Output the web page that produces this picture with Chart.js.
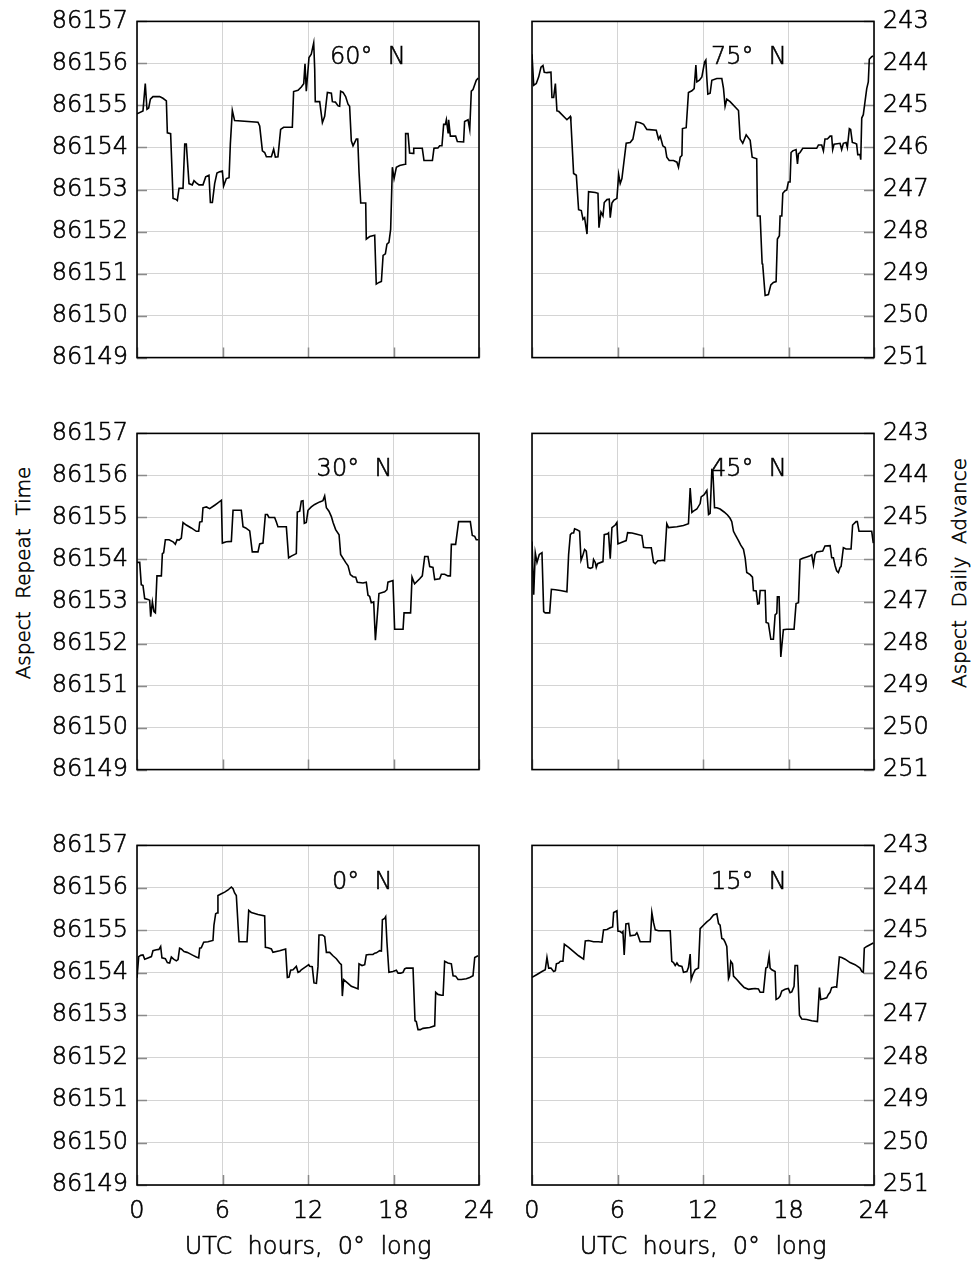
<!DOCTYPE html>
<html>
<head>
<meta charset="utf-8">
<script src="https://cdn.jsdelivr.net/npm/chart.js@4.4.0/dist/chart.umd.min.js"></script>
<style>
html,body{margin:0;padding:0;background:#fff;width:977px;height:1262px;overflow:hidden;position:relative;}
canvas{position:absolute;display:block;}
.vt{position:absolute;font-family:'DejaVu Sans','Liberation Sans',sans-serif;font-weight:200;font-size:20px;color:#000;-webkit-text-stroke:0.55px #000;white-space:pre;transform:translate(-50%,-50%) rotate(-90deg);line-height:1;}
</style>
</head>
<body>
<div class="vt" style="left:23px;top:573px;">Aspect  Repeat  Time</div>
<div class="vt" style="left:959px;top:573px;">Aspect  Daily  Advance</div>
<script>
// ---------- DATA (hours UTC, aspect repeat time in seconds) ----------
const hourTicks = ['0', '6', '12', '18', '24'];
const repeatTimeTicks = ['86149', '86150', '86151', '86152', '86153', '86154', '86155', '86156', '86157'];
const dailyAdvanceTicks = ['251', '250', '249', '248', '247', '246', '245', '244', '243'];
const panelTitles = ['60°  N', '75°  N', '30°  N', '45°  N', '0°  N', '15°  N'];
const xAxisTitle = 'UTC  hours,  0°  long';

const repeat60N = [[0,86154.80],[0.42,86154.87],[0.58,86155.52],[0.70,86154.91],[0.82,86154.94],[0.94,86155.15],[1.12,86155.21],[1.59,86155.21],[1.82,86155.17],[2.06,86155.11],[2.13,86154.35],[2.36,86154.33],[2.53,86152.79],[2.76,86152.76],[2.83,86152.74],[2.95,86153.03],[3.23,86153.03],[3.35,86154.08],[3.46,86154.08],[3.65,86153.14],[3.88,86153.11],[4.00,86153.21],[4.16,86153.16],[4.35,86153.11],[4.63,86153.11],[4.82,86153.30],[5.05,86153.34],[5.15,86152.69],[5.29,86152.69],[5.45,86153.14],[5.61,86153.39],[5.80,86153.42],[5.99,86153.44],[6.08,86153.08],[6.27,86153.26],[6.46,86153.28],[6.55,86154.08],[6.69,86154.88],[6.85,86154.64],[8.49,86154.60],[8.61,86154.51],[8.80,86153.92],[8.96,86153.88],[9.08,86153.78],[9.43,86153.78],[9.59,86153.96],[9.71,86153.77],[9.89,86153.78],[10.08,86154.43],[10.29,86154.48],[10.90,86154.48],[10.99,86155.33],[11.30,86155.36],[11.53,86155.44],[11.70,86155.52],[11.79,86155.99],[11.88,86155.34],[12.07,86156.14],[12.23,86156.22],[12.40,86156.49],[12.47,86155.87],[12.51,86155.09],[12.82,86155.09],[13.01,86154.59],[13.17,86154.74],[13.36,86155.31],[13.64,86155.29],[13.71,86155.09],[13.92,86155.08],[14.11,86154.99],[14.22,86154.98],[14.29,86155.34],[14.46,86155.31],[14.64,86155.21],[14.81,86155.03],[14.92,86154.98],[15.04,86154.16],[15.16,86154.04],[15.39,86154.20],[15.49,86154.20],[15.58,86153.42],[15.70,86152.68],[16.05,86152.68],[16.09,86151.82],[16.33,86151.88],[16.68,86151.91],[16.79,86150.75],[16.98,86150.79],[17.15,86150.81],[17.27,86151.43],[17.43,86151.47],[17.54,86151.70],[17.68,86151.74],[17.80,86152.05],[17.92,86153.53],[18.04,86153.26],[18.20,86153.53],[18.43,86153.57],[18.81,86153.60],[18.85,86154.33],[19.02,86154.33],[19.13,86153.87],[19.37,86153.86],[19.42,86153.98],[20.02,86153.98],[20.14,86153.69],[20.73,86153.69],[20.84,86153.98],[21.12,86153.99],[21.24,86154.04],[21.40,86154.04],[21.52,86154.55],[21.64,86154.55],[21.71,86154.66],[21.83,86154.35],[21.87,86154.66],[21.99,86154.27],[22.36,86154.27],[22.48,86154.14],[22.92,86154.13],[22.99,86154.62],[23.23,86154.66],[23.35,86154.43],[23.46,86155.34],[23.58,86155.38],[23.81,86155.60],[23.95,86155.65]];

const repeat75N = [[0,86156.22],[0.12,86155.48],[0.30,86155.52],[0.47,86155.68],[0.63,86155.91],[0.77,86155.95],[0.86,86155.79],[1.05,86155.78],[1.33,86155.79],[1.40,86155.19],[1.52,86155.19],[1.64,86155.52],[1.75,86154.87],[1.87,86154.86],[2.45,86154.66],[2.69,86154.74],[2.73,86154.62],[2.92,86153.38],[3.11,86153.34],[3.27,86152.52],[3.46,86152.50],[3.58,86152.29],[3.69,86152.33],[3.86,86151.94],[3.97,86152.95],[4.44,86152.93],[4.63,86152.91],[4.70,86152.09],[4.84,86152.46],[4.98,86152.37],[5.07,86152.69],[5.26,86152.76],[5.42,86152.77],[5.49,86152.33],[5.61,86152.68],[5.73,86152.74],[5.96,86152.79],[6.08,86153.36],[6.19,86153.14],[6.31,86153.26],[6.61,86154.10],[6.89,86154.12],[7.08,86154.20],[7.31,86154.61],[7.59,86154.59],[7.83,86154.55],[8.06,86154.43],[8.72,86154.41],[8.88,86154.20],[9.00,86154.27],[9.18,86154.04],[9.35,86154.00],[9.46,86153.77],[9.63,86153.69],[9.93,86153.69],[10.17,86153.65],[10.28,86153.53],[10.40,86153.77],[10.52,86153.81],[10.56,86154.45],[10.82,86154.47],[10.98,86155.31],[11.22,86155.35],[11.38,86155.40],[11.50,86155.96],[11.57,86155.56],[11.75,86155.60],[11.92,86155.68],[12.11,86156.03],[12.20,86156.08],[12.27,86155.64],[12.34,86155.27],[12.50,86155.29],[12.62,86155.60],[12.97,86155.64],[13.32,86155.64],[13.44,86155.40],[13.55,86154.98],[13.67,86155.15],[13.90,86155.09],[14.49,86154.88],[14.61,86154.20],[14.79,86154.10],[15.03,86154.30],[15.31,86154.17],[15.45,86153.77],[15.77,86153.73],[15.82,86152.37],[16.01,86152.37],[16.15,86151.24],[16.19,86151.21],[16.36,86150.48],[16.59,86150.50],[16.76,86150.73],[16.94,86150.79],[17.13,86150.81],[17.22,86151.82],[17.36,86151.90],[17.41,86152.37],[17.53,86152.37],[17.60,86152.91],[17.76,86152.97],[17.88,86152.99],[17.99,86153.18],[18.11,86153.18],[18.18,86153.88],[18.30,86153.92],[18.53,86153.95],[18.63,86153.61],[18.70,86153.85],[18.81,86153.88],[19.00,86153.98],[19.98,86153.98],[20.10,86154.06],[20.33,86154.06],[20.45,86153.92],[20.56,86154.20],[20.73,86154.20],[20.92,86154.27],[21.03,86154.27],[21.10,86153.95],[21.20,86154.08],[21.62,86154.10],[21.73,86153.95],[21.85,86154.10],[22.04,86154.12],[22.13,86154.00],[22.27,86154.45],[22.36,86154.43],[22.48,86154.12],[22.67,86154.10],[22.78,86154.08],[22.86,86153.83],[23.02,86153.83],[23.07,86153.71],[23.14,86154.70],[23.25,86154.78],[23.37,86155.09],[23.49,86155.40],[23.60,86155.56],[23.67,86156.10],[23.84,86156.16],[23.95,86156.18]];

const repeat30N = [[0,86153.93],[0.19,86153.93],[0.30,86153.40],[0.42,86153.38],[0.54,86153.07],[0.77,86153.05],[0.89,86153.03],[0.96,86152.64],[1.08,86152.99],[1.19,86152.76],[1.29,86152.73],[1.40,86153.61],[1.71,86153.61],[1.78,86154.14],[1.87,86154.16],[1.99,86154.47],[2.25,86154.47],[2.53,86154.42],[2.69,86154.36],[2.81,86154.47],[2.95,86154.46],[3.11,86154.51],[3.23,86154.88],[3.46,86154.82],[3.81,86154.75],[4.16,86154.67],[4.33,86154.67],[4.40,86154.89],[4.56,86154.90],[4.63,86155.23],[4.87,86155.25],[4.98,86155.23],[5.10,86155.21],[5.45,86155.29],[5.61,86155.33],[5.92,86155.41],[5.99,86154.39],[6.27,86154.42],[6.62,86154.43],[6.74,86155.17],[6.97,86155.17],[7.32,86155.17],[7.44,86154.78],[7.63,86154.75],[7.91,86154.68],[8.09,86154.18],[8.49,86154.18],[8.61,86154.37],[8.84,86154.39],[9.01,86155.07],[9.15,86155.07],[9.26,86155.00],[9.66,86155.00],[9.78,86154.89],[9.89,86154.78],[10.48,86154.78],[10.64,86154.04],[10.83,86154.08],[11.18,86154.14],[11.25,86155.13],[11.42,86155.15],[11.53,86155.39],[11.65,86155.40],[11.74,86154.86],[11.88,86154.88],[12.00,86155.17],[12.23,86155.25],[12.47,86155.31],[12.82,86155.37],[13.05,86155.40],[13.17,86155.51],[13.29,86155.23],[13.47,86155.15],[13.64,86155.02],[13.76,86154.88],[13.94,86154.71],[14.18,86154.59],[14.29,86154.12],[14.64,86153.93],[14.81,86153.85],[14.97,86153.64],[15.16,86153.59],[15.35,86153.58],[15.46,86153.46],[15.86,86153.44],[16.09,86153.46],[16.21,86153.15],[16.33,86153.12],[16.44,86152.97],[16.61,86152.99],[16.73,86152.08],[16.84,86152.56],[16.98,86153.19],[17.38,86153.23],[17.54,86153.28],[17.61,86153.46],[17.96,86153.50],[18.08,86152.34],[18.67,86152.34],[18.74,86152.73],[19.20,86152.73],[19.30,86153.58],[19.48,86153.42],[19.84,86153.54],[20.02,86153.61],[20.19,86154.07],[20.42,86154.07],[20.54,86153.83],[20.77,86153.81],[20.89,86153.52],[21.24,86153.54],[21.36,86153.65],[21.59,86153.65],[21.82,86153.61],[21.99,86153.61],[22.06,86154.36],[22.36,86154.36],[22.57,86154.90],[23.23,86154.90],[23.39,86154.90],[23.53,86154.57],[23.70,86154.55],[23.81,86154.47],[23.95,86154.47]];

const repeat45N = [[0,86154.43],[0.12,86153.16],[0.23,86154.16],[0.35,86153.93],[0.51,86154.12],[0.70,86154.16],[0.82,86152.76],[0.93,86152.73],[1.24,86152.73],[1.36,86153.29],[1.64,86153.28],[1.99,86153.26],[2.45,86153.23],[2.57,86154.12],[2.69,86154.59],[2.80,86154.63],[2.92,86154.63],[2.99,86154.73],[3.15,86154.71],[3.34,86154.67],[3.44,86153.98],[3.55,86154.08],[3.69,86154.24],[3.81,86154.20],[3.93,86153.81],[4.09,86153.79],[4.25,86153.81],[4.32,86154.00],[4.44,86153.93],[4.51,86153.81],[4.60,86153.90],[4.98,86153.95],[5.07,86154.59],[5.30,86154.61],[5.37,86154.63],[5.49,86154.02],[5.61,86154.76],[5.84,86154.82],[5.96,86154.88],[6.03,86154.37],[6.31,86154.41],[6.61,86154.45],[6.71,86154.64],[7.01,86154.63],[7.36,86154.60],[7.71,86154.57],[7.83,86154.29],[8.02,86154.28],[8.37,86154.28],[8.53,86153.93],[8.65,86153.90],[8.83,86153.97],[9.00,86153.97],[9.18,86153.98],[9.30,86153.97],[9.46,86154.85],[9.58,86154.76],[10.17,86154.78],[10.63,86154.81],[10.98,86154.85],[11.10,86155.70],[11.22,86155.12],[11.33,86155.15],[11.57,86155.20],[11.80,86155.33],[11.87,86155.49],[12.08,86155.54],[12.27,86155.64],[12.39,86155.07],[12.50,86155.10],[12.62,86156.13],[12.69,86156.11],[12.81,86155.23],[12.97,86155.23],[13.20,86155.20],[13.48,86155.13],[13.72,86155.06],[13.90,86154.98],[14.02,86154.90],[14.14,86154.67],[14.26,86154.59],[14.49,86154.45],[14.65,86154.34],[14.84,86154.24],[14.96,86154.03],[15.07,86153.69],[15.31,86153.64],[15.47,86153.58],[15.54,86153.26],[15.73,86153.25],[15.84,86152.94],[15.94,86152.95],[16.01,86153.26],[16.36,86153.26],[16.43,86152.50],[16.59,86152.48],[16.76,86152.10],[16.94,86152.10],[17.06,86152.68],[17.18,86152.72],[17.22,86153.11],[17.34,86153.11],[17.46,86151.68],[17.64,86152.33],[17.88,86152.34],[18.39,86152.34],[18.53,86152.95],[18.70,86152.97],[18.81,86154.00],[19.00,86154.03],[19.28,86154.06],[19.47,86154.08],[19.63,86154.11],[19.75,86153.87],[19.86,86154.12],[19.98,86154.18],[20.40,86154.20],[20.56,86154.32],[20.92,86154.33],[21.03,86154.04],[21.15,86154.04],[21.27,86153.85],[21.38,86153.73],[21.50,86153.69],[21.62,86153.81],[21.69,86153.83],[21.85,86154.28],[22.04,86154.25],[22.39,86154.25],[22.50,86154.82],[22.74,86154.90],[22.83,86154.90],[22.95,86154.67],[23.49,86154.67],[23.84,86154.67],[23.95,86154.39]];

const repeat0N = [[0,86153.88],[0.12,86154.38],[0.26,86154.41],[0.42,86154.42],[0.54,86154.32],[0.77,86154.35],[1.01,86154.38],[1.12,86154.52],[1.36,86154.54],[1.54,86154.55],[1.66,86154.62],[1.75,86154.35],[1.99,86154.33],[2.13,86154.24],[2.29,86154.23],[2.41,86154.37],[2.57,86154.32],[2.76,86154.28],[2.88,86154.31],[2.99,86154.58],[3.11,86154.56],[3.30,86154.50],[3.51,86154.48],[3.70,86154.45],[3.93,86154.41],[4.16,86154.37],[4.33,86154.35],[4.40,86154.58],[4.51,86154.59],[4.68,86154.72],[4.98,86154.73],[5.33,86154.76],[5.40,86155.12],[5.52,86155.39],[5.64,86155.41],[5.68,86155.82],[5.92,86155.86],[6.15,86155.90],[6.39,86155.95],[6.62,86156.02],[6.74,86155.98],[6.85,86155.88],[6.97,86155.82],[7.16,86154.73],[7.32,86154.73],[7.72,86154.73],[7.84,86155.47],[8.02,86155.42],[8.14,86155.41],[8.49,86155.37],[8.96,86155.34],[9.01,86154.60],[9.19,86154.59],[9.43,86154.56],[9.54,86154.48],[10.01,86154.52],[10.43,86154.56],[10.55,86153.89],[10.67,86153.90],[10.78,86154.06],[10.95,86154.07],[11.18,86154.15],[11.30,86154.01],[11.42,86154.03],[11.53,86154.07],[11.88,86154.15],[12.05,86154.19],[12.12,86154.15],[12.30,86154.14],[12.42,86153.76],[12.59,86153.75],[12.70,86154.15],[12.77,86154.89],[13.01,86154.89],[13.17,86154.85],[13.29,86154.48],[13.52,86154.48],[13.75,86154.40],[13.99,86154.33],[14.22,86154.23],[14.34,86154.19],[14.41,86153.45],[14.50,86153.84],[14.81,86153.75],[15.04,86153.68],[15.27,86153.65],[15.51,86153.62],[15.58,86154.21],[15.79,86154.17],[15.98,86154.19],[16.09,86154.42],[16.28,86154.43],[16.56,86154.43],[16.68,86154.46],[16.80,86154.47],[17.03,86154.52],[17.15,86154.51],[17.22,86155.25],[17.38,86155.28],[17.45,86155.32],[17.54,86154.72],[17.68,86154.01],[17.96,86154.03],[18.20,86154.06],[18.32,86153.99],[18.50,86153.99],[18.67,86154.01],[18.78,86154.09],[18.90,86154.11],[19.37,86154.11],[19.51,86152.87],[19.60,86152.85],[19.72,86152.66],[19.88,86152.66],[20.07,86152.69],[20.54,86152.71],[20.89,86152.75],[20.96,86153.54],[21.12,86153.49],[21.36,86153.47],[21.48,86153.47],[21.59,86154.27],[21.82,86154.23],[22.06,86154.21],[22.18,86153.93],[22.36,86153.92],[22.53,86153.84],[22.76,86153.84],[23.11,86153.86],[23.35,86153.89],[23.58,86153.93],[23.70,86154.36],[23.93,86154.40]];

const repeat15N = [[0,86153.89],[0.35,86153.96],[0.70,86154.03],[0.93,86154.07],[1.05,86154.36],[1.17,86154.11],[1.33,86154.11],[1.52,86154.03],[1.64,86154.05],[1.71,86154.21],[1.87,86154.23],[1.99,86154.27],[2.17,86154.27],[2.27,86154.67],[2.57,86154.60],[2.92,86154.50],[3.27,86154.40],[3.62,86154.32],[3.74,86154.75],[3.97,86154.76],[4.32,86154.73],[4.67,86154.73],[4.91,86154.72],[5.02,86155.01],[5.26,86155.02],[5.49,86155.06],[5.66,86155.08],[5.73,86155.42],[5.96,86155.46],[6.03,86154.98],[6.19,86154.97],[6.31,86154.94],[6.38,86154.97],[6.47,86154.42],[6.59,86155.15],[6.78,86155.16],[6.89,86154.87],[7.24,86154.89],[7.36,86154.94],[7.43,86154.89],[7.59,86154.73],[7.95,86154.73],[8.30,86154.73],[8.41,86155.42],[8.53,86155.18],[8.65,86155.01],[8.88,86154.99],[9.28,86154.99],[9.70,86154.99],[9.81,86154.27],[9.93,86154.24],[10.05,86154.17],[10.17,86154.23],[10.28,86154.17],[10.52,86154.15],[10.63,86154.01],[10.87,86154.03],[10.98,86154.13],[11.10,86154.44],[11.17,86153.84],[11.29,86153.96],[11.45,86154.07],[11.68,86154.11],[11.80,86155.04],[12.03,86155.12],[12.27,86155.20],[12.50,86155.26],[12.74,86155.36],[12.97,86155.39],[13.09,86155.16],[13.20,86155.12],[13.32,86154.81],[13.44,86154.79],[13.55,86154.72],[13.67,86154.62],[13.79,86153.86],[13.86,86153.92],[13.95,86154.27],[14.07,86154.21],[14.14,86153.92],[14.37,86153.84],[14.61,86153.75],[14.89,86153.65],[15.19,86153.61],[15.42,86153.62],[15.66,86153.63],[15.89,86153.62],[16.01,86153.54],[16.24,86153.54],[16.41,86154.11],[16.52,86154.13],[16.64,86154.40],[16.71,86154.11],[16.83,86154.07],[17.06,86154.03],[17.13,86153.37],[17.29,86153.40],[17.41,86153.45],[17.53,86153.57],[17.76,86153.61],[17.99,86153.63],[18.11,86153.53],[18.23,86153.55],[18.39,86153.68],[18.46,86154.17],[18.63,86154.17],[18.77,86153.00],[18.93,86152.91],[19.28,86152.90],[19.63,86152.87],[20.03,86152.85],[20.17,86153.65],[20.26,86153.37],[20.45,86153.39],[20.68,86153.41],[20.80,86153.49],[20.92,86153.54],[21.03,86153.65],[21.27,86153.67],[21.38,86153.66],[21.57,86154.37],[21.73,86154.36],[21.97,86154.32],[22.32,86154.24],[22.67,86154.19],[23.02,86154.11],[23.14,86154.03],[23.25,86154.01],[23.32,86154.58],[23.49,86154.62],[23.72,86154.66],[23.95,86154.70]];

// ---------- LAYOUT / STYLE ----------
const FONT_FAMILY = "'DejaVu Sans', 'Liberation Sans', sans-serif";
const FONT_WEIGHT = '200';
const FONT_SIZE = 24;
const TEXT_STROKE = 0.6;
const PLOT_LEFT = [137, 532];
const PLOT_W = 342;
const ROW_TOP = [18, 430, 842];
const PLOT_H = 343;

const PANELS = [
  { data: repeat60N, title: panelTitles[0], col: 0, row: 0, titleRight: 18.86 },
  { data: repeat75N, title: panelTitles[1], col: 1, row: 0, titleRight: 17.88 },
  { data: repeat30N, title: panelTitles[2], col: 0, row: 1, titleRight: 17.92 },
  { data: repeat45N, title: panelTitles[3], col: 1, row: 1, titleRight: 17.88 },
  { data: repeat0N,  title: panelTitles[4], col: 0, row: 2, titleRight: 17.92 },
  { data: repeat15N, title: panelTitles[5], col: 1, row: 2, titleRight: 17.88 }
];

function drawStrokedText(ctx, text, x, y) {
  ctx.fillText(text, x, y);
  ctx.lineWidth = TEXT_STROKE;
  ctx.strokeStyle = '#000';
  ctx.strokeText(text, x, y);
}

const decorPlugin = {
  id: 'decor',
  beforeDatasetsDraw(chart, args, opts) {
    const { ctx, chartArea: a, scales: { x, y } } = chart;
    ctx.save();
    ctx.strokeStyle = '#8a8a8a';
    ctx.lineWidth = 1.5;
    ctx.beginPath();
    y.ticks.forEach(t => {
      const py = Math.round(y.getPixelForValue(t.value)) + 0.5;
      if (opts.col === 0) { ctx.moveTo(a.left, py); ctx.lineTo(a.left + 10, py); }
      else { ctx.moveTo(a.right - 10, py); ctx.lineTo(a.right, py); }
    });
    x.ticks.forEach(t => {
      const px = Math.round(x.getPixelForValue(t.value)) + 0.5;
      ctx.moveTo(px, a.bottom); ctx.lineTo(px, a.bottom - 10);
    });
    ctx.stroke();
    ctx.restore();
  },
  afterDatasetsDraw(chart, args, opts) {
    const { ctx, chartArea: a, scales: { x, y } } = chart;
    ctx.save();
    ctx.strokeStyle = '#000';
    ctx.lineWidth = 1.6;
    ctx.strokeRect(a.left, a.top, a.right - a.left, a.bottom - a.top);
    ctx.fillStyle = '#000';
    ctx.font = FONT_WEIGHT + ' ' + FONT_SIZE + 'px ' + FONT_FAMILY;
    ctx.textAlign = 'right';
    ctx.textBaseline = 'alphabetic';
    drawStrokedText(ctx, opts.title, x.getPixelForValue(opts.titleRight), y.getPixelForValue(86156) + 1);
    if (opts.xTitle) {
      ctx.textAlign = 'center';
      drawStrokedText(ctx, opts.xTitle, (a.left + a.right) / 2, a.bottom + 69);
    }
    ctx.restore();
  }
};

PANELS.forEach(p => {
  const bottomRow = p.row === 2;
  const padL = p.col === 0 ? 0 : 20;
  const padR = p.col === 0 ? 40 : 0;
  const yWidth = p.col === 0 ? 137 : 103;
  const xHeight = bottomRow ? 70 : 0;
  const padB = bottomRow ? 7 : 20;
  const cLeft = p.col === 0 ? 0 : PLOT_LEFT[1] - 20;
  const cWidth = padL + PLOT_W + padR + yWidth;
  const cTop = ROW_TOP[p.row] - 20;
  const cHeight = 20 + PLOT_H + xHeight + padB;

  const cv = document.createElement('canvas');
  cv.width = cWidth; cv.height = cHeight;
  cv.style.left = cLeft + 'px'; cv.style.top = cTop + 'px';
  cv.style.width = cWidth + 'px'; cv.style.height = cHeight + 'px';
  document.body.appendChild(cv);

  const tickFont = { family: FONT_FAMILY, size: FONT_SIZE, weight: FONT_WEIGHT };
  const yLabels = p.col === 0 ? repeatTimeTicks : dailyAdvanceTicks;

  new Chart(cv.getContext('2d'), {
    type: 'line',
    data: {
      datasets: [{
        data: p.data.map(d => ({ x: d[0], y: d[1] })),
        borderColor: '#000',
        borderWidth: 1.6,
        pointRadius: 0,
        tension: 0,
        fill: false
      }]
    },
    options: {
      responsive: false,
      maintainAspectRatio: false,
      animation: false,
      devicePixelRatio: 1,
      layout: { padding: { left: padL, right: padR, top: 20, bottom: padB } },
      plugins: {
        legend: { display: false },
        tooltip: { enabled: false },
        decor: { col: p.col, title: p.title, titleRight: p.titleRight, xTitle: bottomRow ? xAxisTitle : null }
      },
      scales: {
        x: {
          type: 'linear',
          min: 0, max: 24,
          afterFit: s => { s.height = xHeight; },
          grid: { color: '#d4d4d4', lineWidth: 1, drawTicks: false },
          border: { display: false },
          ticks: {
            display: bottomRow,
            stepSize: 6,
            padding: 12,
            color: '#000',
            textStrokeColor: '#000',
            textStrokeWidth: TEXT_STROKE,
            font: tickFont,
            maxRotation: 0,
            autoSkip: false,
            callback: (v, i) => hourTicks[i]
          }
        },
        y: {
          type: 'linear',
          position: p.col === 0 ? 'left' : 'right',
          min: 86149, max: 86157,
          afterFit: s => { s.width = yWidth; },
          grid: { color: '#d4d4d4', lineWidth: 1, drawTicks: false },
          border: { display: false },
          ticks: {
            stepSize: 1,
            padding: 9,
            color: '#000',
            textStrokeColor: '#000',
            textStrokeWidth: TEXT_STROKE,
            font: tickFont,
            autoSkip: false,
            callback: (v, i) => yLabels[i]
          }
        }
      }
    },
    plugins: [decorPlugin]
  });
});
</script>
</body>
</html>
